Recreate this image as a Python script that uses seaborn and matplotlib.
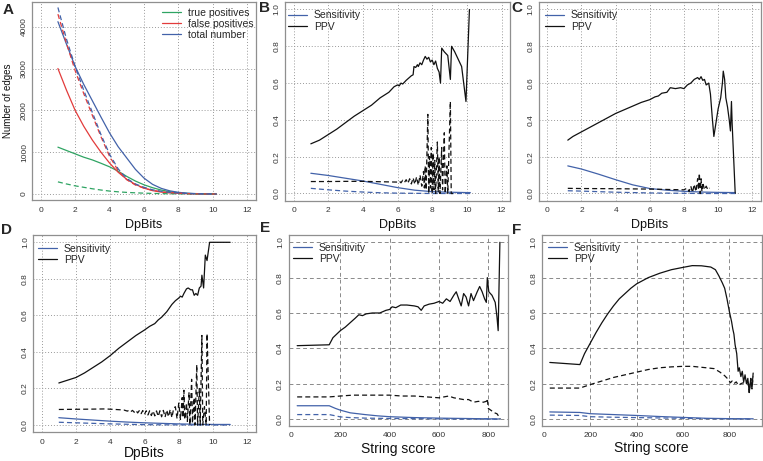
import matplotlib
matplotlib.use('Agg')
import matplotlib.pyplot as plt
import seaborn as sns

# ---------------- data ----------------
# Panel A (number of edges vs DpBits)
a_x = [1, 1.5, 2, 2.5, 3, 3.5, 4, 4.5, 5, 5.5, 6, 6.5, 7, 7.5, 8, 8.5, 9, 9.5, 10, 10.2]
a_tot = [4120, 3580, 3050, 2620, 2230, 1840, 1460, 1130, 860, 590, 380, 230, 135, 75, 40, 20, 10, 5, 2, 0]
a_fp = [3000, 2480, 2000, 1620, 1290, 1000, 740, 520, 350, 230, 140, 80, 45, 25, 15, 8, 4, 2, 0, 0]
a_tp = [1120, 1040, 960, 880, 815, 735, 650, 545, 420, 310, 220, 150, 95, 55, 30, 15, 7, 3, 1, 0]
a_tot_d = [4460, 3700, 3050, 2480, 1950, 1420, 950, 600, 370, 240, 160, 100, 65, 40, 25, 12, 5, 2, 0, 0]
a_fp_d = [4300, 3600, 2950, 2400, 1880, 1370, 900, 560, 340, 215, 140, 90, 55, 33, 20, 10, 4, 1, 0, 0]
a_tp_d = [290, 240, 195, 160, 125, 95, 70, 52, 38, 28, 20, 14, 9, 6, 4, 2, 1, 0, 0, 0]
a_labels = ['true positives', 'false positives', 'total number']

# Panel B
b_ppv_x = [1.0, 1.5, 2.0, 2.5, 3.0, 3.5, 4.0, 4.5, 5.0, 5.5, 5.8, 6.0, 6.1, 6.2, 6.3, 6.5, 6.8, 6.9,
           6.95, 7.05, 7.15, 7.2, 7.3, 7.4, 7.5, 7.6, 7.7, 7.8, 7.9, 8.0, 8.1, 8.2, 8.3, 8.4, 8.48,
           8.55, 8.7, 8.9, 9.05, 9.12, 9.3, 9.5, 9.7, 9.95, 10.15]
b_ppv = [0.27, 0.29, 0.32, 0.35, 0.385, 0.42, 0.45, 0.48, 0.52, 0.55, 0.58, 0.59, 0.585, 0.60, 0.595,
         0.615, 0.64, 0.645, 0.69, 0.685, 0.70, 0.69, 0.71, 0.70, 0.725, 0.745, 0.73, 0.74, 0.715,
         0.725, 0.70, 0.72, 0.68, 0.66, 0.60, 0.79, 0.77, 0.75, 0.62, 0.80, 0.77, 0.73, 0.69, 0.50, 1.0]
b_ppv2_x = [1.0, 2.0, 3.0, 4.0, 5.0, 6.0, 6.1, 6.2, 6.3, 6.4, 6.5, 6.6, 6.7, 6.8, 6.9, 7.0, 7.1,
            7.2, 7.3, 7.4, 7.5, 7.55, 7.6, 7.65, 7.75, 7.8, 7.85, 7.9, 7.95, 8.0, 8.05, 8.1, 8.15,
            8.2, 8.3, 8.35, 8.4, 8.45, 8.55, 8.6, 8.7, 8.75, 8.85, 8.9, 9.05, 9.1, 9.2]
b_ppv2 = [0.065, 0.065, 0.066, 0.066, 0.064, 0.062, 0.068, 0.058, 0.072, 0.060, 0.075, 0.055, 0.080,
          0.052, 0.085, 0.050, 0.090, 0.045, 0.10, 0.04, 0.12, 0.03, 0.15, 0.02, 0.43, 0.0, 0.20,
          0.03, 0.25, 0.0, 0.22, 0.02, 0.18, 0.0, 0.28, 0.01, 0.20, 0.0, 0.25, 0.02, 0.33, 0.0,
          0.15, 0.0, 0.50, 0.0, 0.0]
b_sens_x = [1, 2, 3, 4, 5, 6, 7, 8, 9, 10, 10.2]
b_sens = [0.11, 0.098, 0.083, 0.068, 0.05, 0.032, 0.018, 0.01, 0.007, 0.005, 0.005]
b_sens2 = [0.028, 0.02, 0.013, 0.008, 0.004, 0.002, 0.001, 0.0, 0.0, 0.0, 0.0]

# Panel C
c_ppv_x = [1.2, 1.5, 2.0, 2.5, 3.0, 3.5, 4.0, 4.5, 5.0, 5.5, 6.0, 6.3, 6.5, 6.7, 7.0, 7.2, 7.5, 7.8,
           8.0, 8.2, 8.4, 8.6, 8.8, 8.9, 9.0, 9.1, 9.2, 9.3, 9.45, 9.55, 9.65, 9.75, 9.9, 10.0,
           10.15, 10.25, 10.3, 10.38, 10.45, 10.55, 10.65, 10.72, 10.78, 10.82, 11.0]
c_ppv = [0.29, 0.31, 0.335, 0.36, 0.385, 0.41, 0.435, 0.455, 0.475, 0.495, 0.51, 0.525, 0.53, 0.545,
         0.55, 0.575, 0.57, 0.575, 0.57, 0.59, 0.60, 0.62, 0.63, 0.62, 0.635, 0.615, 0.62, 0.59, 0.60,
         0.54, 0.42, 0.31, 0.40, 0.46, 0.52, 0.60, 0.665, 0.62, 0.52, 0.47, 0.40, 0.34, 0.50, 0.38, 0.0]
c_ppv2_x = [1.2, 2.0, 4.0, 6.0, 7.0, 8.0, 8.2, 8.3, 8.4, 8.5, 8.6, 8.7, 8.8, 8.85, 8.9, 8.95, 9.0,
            9.05, 9.1, 9.2, 9.3, 9.4, 9.5]
c_ppv2 = [0.028, 0.027, 0.026, 0.024, 0.022, 0.02, 0.03, 0.01, 0.04, 0.005, 0.05, 0.01, 0.08, 0.02,
          0.11, 0.0, 0.08, 0.01, 0.06, 0.02, 0.04, 0.02, 0.03]
c_sens_x = [1.2, 2, 3, 4, 5, 6, 7, 8, 9, 10, 11]
c_sens = [0.15, 0.133, 0.105, 0.075, 0.047, 0.027, 0.018, 0.012, 0.008, 0.006, 0.005]
c_sens2 = [0.015, 0.013, 0.01, 0.007, 0.005, 0.003, 0.002, 0.001, 0.0, 0.0, 0.0]

# Panel D
d_ppv_x = [1, 1.5, 2, 2.5, 3, 3.5, 4, 4.5, 5, 5.5, 6, 6.3, 6.6, 6.8, 7.0, 7.3, 7.6, 7.8, 8.0, 8.1,
           8.2, 8.3, 8.45, 8.55, 8.7, 8.8, 8.9, 9.0, 9.1, 9.2, 9.3, 9.35, 9.45, 9.55, 9.65, 9.8, 11.0]
d_ppv = [0.23, 0.245, 0.26, 0.285, 0.315, 0.345, 0.38, 0.42, 0.455, 0.49, 0.52, 0.54, 0.555, 0.575,
         0.59, 0.62, 0.66, 0.68, 0.695, 0.705, 0.70, 0.72, 0.745, 0.75, 0.74, 0.74, 0.71, 0.72, 0.71,
         0.75, 0.76, 0.82, 0.75, 0.93, 0.90, 1.0, 1.0]
d_ppv2_x = [1.0, 2.0, 3.0, 3.7, 4.3, 4.8, 5.0, 5.1, 5.2, 5.3, 5.4, 5.5, 5.6, 5.7, 5.8, 5.9, 6.0, 6.1,
            6.2, 6.3, 6.4, 6.5, 6.6, 6.7, 6.8, 6.9, 7.0, 7.1, 7.2, 7.3, 7.4, 7.5, 7.6, 7.7, 7.8, 7.9,
            8.0, 8.1, 8.2, 8.25, 8.3, 8.35, 8.45, 8.5, 8.6, 8.65, 8.75, 8.8, 8.9, 8.95, 9.05, 9.1,
            9.2, 9.25, 9.35, 9.4, 9.5, 9.6, 9.65, 9.8]
d_ppv2 = [0.085, 0.086, 0.087, 0.088, 0.085, 0.082, 0.076, 0.081, 0.073, 0.080, 0.070, 0.080, 0.066,
          0.079, 0.062, 0.079, 0.058, 0.078, 0.055, 0.078, 0.052, 0.077, 0.050, 0.077, 0.047, 0.078,
          0.045, 0.080, 0.043, 0.082, 0.045, 0.085, 0.040, 0.090, 0.100, 0.035, 0.12, 0.03, 0.15,
          0.04, 0.19, 0.03, 0.12, 0.02, 0.18, 0.0, 0.25, 0.01, 0.15, 0.0, 0.33, 0.0, 0.2, 0.0, 0.49,
          0.0, 0.1, 0.0, 0.5, 0.0]
d_sens_x = [1, 2, 3, 4, 5, 6, 7, 8, 9, 10, 11]
d_sens = [0.04, 0.033, 0.027, 0.021, 0.016, 0.012, 0.009, 0.006, 0.004, 0.003, 0.003]
d_sens2 = [0.015, 0.012, 0.009, 0.006, 0.004, 0.002, 0.001, 0.001, 0.0, 0.0, 0.0]

# Panel E (String score)
e_ppv_x = [25, 155, 170, 185, 200, 220, 240, 260, 275, 290, 305, 330, 360, 385, 400, 410, 425, 445,
           470, 500, 515, 528, 540, 560, 580, 600, 615, 630, 645, 660, 670, 680, 690, 700, 710, 720,
           730, 740, 755, 765, 775, 785, 792, 796, 802, 815, 828, 835, 840, 847]
e_ppv = [0.415, 0.42, 0.46, 0.48, 0.50, 0.52, 0.545, 0.57, 0.59, 0.585, 0.595, 0.60, 0.60, 0.615,
         0.62, 0.635, 0.63, 0.645, 0.645, 0.64, 0.635, 0.615, 0.64, 0.65, 0.655, 0.665, 0.655, 0.68,
         0.665, 0.70, 0.72, 0.68, 0.64, 0.71, 0.69, 0.64, 0.71, 0.67, 0.72, 0.75, 0.72, 0.68, 0.66,
         0.80, 0.72, 0.70, 0.66, 0.58, 0.50, 1.0]
e_ppv2_x = [25, 155, 200, 250, 300, 350, 400, 450, 500, 550, 600, 620, 640, 660, 680, 700, 720, 740,
            760, 780, 792, 796, 800, 815, 825, 835, 840, 848]
e_ppv2 = [0.125, 0.125, 0.13, 0.135, 0.135, 0.135, 0.135, 0.13, 0.13, 0.125, 0.12, 0.125, 0.13,
          0.12, 0.115, 0.11, 0.11, 0.095, 0.10, 0.095, 0.10, 0.115, 0.06, 0.045, 0.035, 0.03, 0.02, 0.0]
e_sens_x = [25, 155, 180, 200, 240, 300, 350, 400, 500, 600, 700, 800, 848]
e_sens = [0.075, 0.075, 0.06, 0.05, 0.035, 0.025, 0.018, 0.013, 0.008, 0.005, 0.003, 0.001, 0.0]
e_sens2 = [0.025, 0.025, 0.018, 0.012, 0.008, 0.005, 0.004, 0.003, 0.002, 0.001, 0.0, 0.0, 0.0]

# Panel F (String score)
f_ppv_x = [25, 80, 155, 175, 200, 225, 250, 275, 300, 325, 350, 375, 400, 450, 500, 550, 600, 640,
           680, 720, 740, 755, 770, 780, 790, 800, 810, 815, 820, 825, 832, 838, 843, 850, 856, 862,
           868, 874, 880, 886, 892, 898, 903]
f_ppv = [0.32, 0.315, 0.308, 0.37, 0.43, 0.49, 0.545, 0.595, 0.64, 0.68, 0.71, 0.74, 0.765, 0.80,
         0.825, 0.845, 0.858, 0.868, 0.867, 0.86, 0.845, 0.81, 0.77, 0.74, 0.68, 0.61, 0.55, 0.51,
         0.48, 0.42, 0.37, 0.27, 0.29, 0.24, 0.27, 0.21, 0.25, 0.20, 0.23, 0.15, 0.22, 0.18, 0.26]
f_ppv2_x = [25, 155, 200, 250, 300, 350, 400, 450, 500, 550, 600, 640, 700, 735, 760, 780, 795, 805,
            812, 820, 830, 840, 850, 860, 870, 880, 886, 893, 898, 903]
f_ppv2 = [0.175, 0.175, 0.195, 0.215, 0.235, 0.25, 0.265, 0.28, 0.29, 0.295, 0.298, 0.298, 0.29,
          0.285, 0.265, 0.245, 0.225, 0.205, 0.215, 0.20, 0.21, 0.19, 0.20, 0.205, 0.20, 0.21, 0.15,
          0.23, 0.17, 0.24]
f_sens_x = [25, 155, 200, 300, 400, 500, 600, 700, 800, 903]
f_sens = [0.04, 0.037, 0.03, 0.025, 0.02, 0.014, 0.009, 0.004, 0.002, 0.001]
f_sens2 = [0.022, 0.02, 0.013, 0.01, 0.008, 0.006, 0.004, 0.002, 0.001, 0.0]

dp_ticks = [0, 2, 4, 6, 8, 10, 12]
ss_ticks = [0, 200, 400, 600, 800]
ss_grid = [200, 400, 600, 800]
prob_ticks = [0.0, 0.2, 0.4, 0.6, 0.8, 1.0]
prob_labels = ['0.0', '0.2', '0.4', '0.6', '0.8', '1.0']
edge_ticks = [0, 1000, 2000, 3000, 4000]

# ---------------- style ----------------
sns.set_style('white')
plt.rcParams['font.family'] = ['Liberation Sans', 'DejaVu Sans']

W, H = 763, 461
fig = plt.figure(figsize=(W / 100, H / 100), dpi=100)

BLUE = '#4262a9'
GREEN = '#2fa463'
RED = '#e23b3b'
BLACK = '#111111'
DASH = (0, (4, 2.5))
DOT_GRID = (0, (1, 2))
DASH_GRID = (0, (4, 3))


def make_axes(xp, yp, xlim, ylim):
    px0, v0, px1, v1 = xp
    s = (px1 - px0) / (v1 - v0)
    left = px0 + (xlim[0] - v0) * s
    right = px0 + (xlim[1] - v0) * s
    py0, w0, py1, w1 = yp
    t = (py1 - py0) / (w1 - w0)
    bottom = py0 + (ylim[0] - w0) * t
    top = py0 + (ylim[1] - w0) * t
    ax = fig.add_axes([left / W, 1 - bottom / H, (right - left) / W, (bottom - top) / H])
    ax.set_xlim(xlim)
    ax.set_ylim(ylim)
    ax._pix = (left, right, top, bottom)
    return ax


def style(ax, xticks, yticks, ylabels, grid_ls, grid_col, xgrid=True):
    ax.set_xticks(xticks)
    ax.set_xticklabels([str(v) for v in xticks])
    ax.set_yticks(yticks)
    ax.set_yticklabels(ylabels, rotation=90, va='center')
    ax.tick_params(axis='both', direction='out', length=2.6, width=0.6, color='#555555',
                   labelsize=6, labelcolor='#333333')
    ax.tick_params(axis='x', pad=2.0)
    ax.tick_params(axis='y', pad=0.6)
    for sp in ax.spines.values():
        sp.set_visible(True)
        sp.set_color('#8f8f8f')
        sp.set_linewidth(0.9)
    if xgrid:
        ax.grid(True, linestyle=grid_ls, color=grid_col, linewidth=0.7)
    else:
        ax.grid(True, axis='y', linestyle=grid_ls, color=grid_col, linewidth=0.7)
    ax.set_axisbelow(True)


def vgrid(ax, xs, grid_ls, grid_col):
    for v in xs:
        ax.axvline(v, linestyle=grid_ls, color=grid_col, linewidth=0.7, zorder=0.5)


def line(ax, x, y, color, dashed=False, label=None, lw=0.9):
    sns.lineplot(x=x, y=y, ax=ax, color=color, sort=False, estimator=None,
                 label=label, linewidth=lw, legend=False)
    if dashed:
        ax.lines[-1].set_linestyle(DASH)


def legend(ax, px, py):
    h, l = ax.get_legend_handles_labels()
    ax.legend(h, l, loc='upper left', bbox_to_anchor=(px / W, 1 - py / H),
              bbox_transform=fig.transFigure, frameon=False, fontsize=7.5,
              handlelength=1.8, handletextpad=0.7, labelspacing=0.1,
              borderpad=0, borderaxespad=0)


def xlabel(ax, text, ypix, size=9):
    left, right, top, bottom = ax._pix
    ax.set_xlabel(text, fontsize=size, color='#111111')
    ax.xaxis.set_label_coords(0.5, -(ypix - bottom) / (bottom - top))
    ax.xaxis.label.set_va('center')


def panel_letter(x, y, s):
    fig.text(x / W, 1 - y / H, s, fontsize=11, fontweight='bold', ha='center', va='center')


dp_lim = (-0.48, 12.48)
p_lim = (-0.04, 1.04)

# ---- A ----
axA = make_axes((40.7, 0, 247.3, 12), (194, 0, 26.7, 4000), dp_lim, (-150, 4600))
style(axA, dp_ticks, edge_ticks, [str(v) for v in edge_ticks], DOT_GRID, '#9a9a9a')
line(axA, a_x, a_tp, GREEN, label=a_labels[0])
line(axA, a_x, a_fp, RED, label=a_labels[1])
line(axA, a_x, a_tot, BLUE, label=a_labels[2])
line(axA, a_x, a_tp_d, GREEN, dashed=True)
line(axA, a_x, a_fp_d, RED, dashed=True)
line(axA, a_x, a_tot_d, BLUE, dashed=True)
legend(axA, 162, 7.5)
xlabel(axA, 'DpBits', 225)
axA.set_ylabel('Number of edges', fontsize=7, color='#111111')
axA.yaxis.set_label_coords(-(axA._pix[0] - 8) / (axA._pix[1] - axA._pix[0]), 0.5)
axA.yaxis.label.set_va('center')

# ---- B ----
axB = make_axes((293.5, 0, 501.5, 12), (193.5, 0, 9.5, 1), dp_lim, p_lim)
style(axB, dp_ticks, prob_ticks, prob_labels, DOT_GRID, '#9a9a9a')
line(axB, b_sens_x, b_sens, BLUE, label='Sensitivity')
line(axB, b_ppv_x, b_ppv, BLACK, label='PPV')
line(axB, b_sens_x, b_sens2, BLUE, dashed=True)
line(axB, b_ppv2_x, b_ppv2, BLACK, dashed=True)
legend(axB, 288, 10.5)
xlabel(axB, 'DpBits', 225)

# ---- C ----
axC = make_axes((547.3, 0, 752.3, 12), (193.5, 0, 9.5, 1), dp_lim, p_lim)
style(axC, dp_ticks, prob_ticks, prob_labels, DOT_GRID, '#9a9a9a')
line(axC, c_sens_x, c_sens, BLUE, label='Sensitivity')
line(axC, c_ppv_x, c_ppv, BLACK, label='PPV')
line(axC, c_sens_x, c_sens2, BLUE, dashed=True)
line(axC, c_ppv2_x, c_ppv2, BLACK, dashed=True)
legend(axC, 545, 10.5)
xlabel(axC, 'DpBits', 225)

# ---- D ----
axD = make_axes((41.7, 0, 247.3, 12), (425, 0, 242.3, 1), dp_lim, p_lim)
style(axD, dp_ticks, prob_ticks, prob_labels, DOT_GRID, '#9a9a9a')
line(axD, d_sens_x, d_sens, BLUE, label='Sensitivity')
line(axD, d_ppv_x, d_ppv, BLACK, label='PPV')
line(axD, d_sens_x, d_sens2, BLUE, dashed=True)
line(axD, d_ppv2_x, d_ppv2, BLACK, dashed=True)
legend(axD, 38, 243.5)
xlabel(axD, 'DpBits', 453, size=10)

# ---- E ----
axE = make_axes((291, 0, 488.3, 800), (419, 0, 242.3, 1), (-10, 881), p_lim)
style(axE, ss_ticks, prob_ticks, prob_labels, DASH_GRID, '#8a8a8a', xgrid=False)
vgrid(axE, ss_grid, DASH_GRID, '#8a8a8a')
line(axE, e_sens_x, e_sens, BLUE, label='Sensitivity')
line(axE, e_ppv_x, e_ppv, BLACK, label='PPV')
line(axE, e_sens_x, e_sens2, BLUE, dashed=True)
line(axE, e_ppv2_x, e_ppv2, BLACK, dashed=True)
legend(axE, 293, 242.5)
xlabel(axE, 'String score', 449, size=10)

# ---- F ----
axF = make_axes((544, 0, 729.3, 800), (419, 0, 242.3, 1), (-10, 940), p_lim)
style(axF, ss_ticks, prob_ticks, prob_labels, DASH_GRID, '#8a8a8a', xgrid=False)
vgrid(axF, ss_grid, DASH_GRID, '#8a8a8a')
line(axF, f_sens_x, f_sens, BLUE, label='Sensitivity')
line(axF, f_ppv_x, f_ppv, BLACK, label='PPV')
line(axF, f_sens_x, f_sens2, BLUE, dashed=True)
line(axF, f_ppv2_x, f_ppv2, BLACK, dashed=True)
legend(axF, 548, 242.5)
xlabel(axF, 'String score', 448, size=10)

for (x, y, s) in [(8, 10, 'A'), (265, 8, 'B'), (517, 8, 'C'),
                  (7, 230, 'D'), (265, 228, 'E'), (517, 230, 'F')]:
    panel_letter(x, y, s)

fig.savefig('out.png', dpi=100)
